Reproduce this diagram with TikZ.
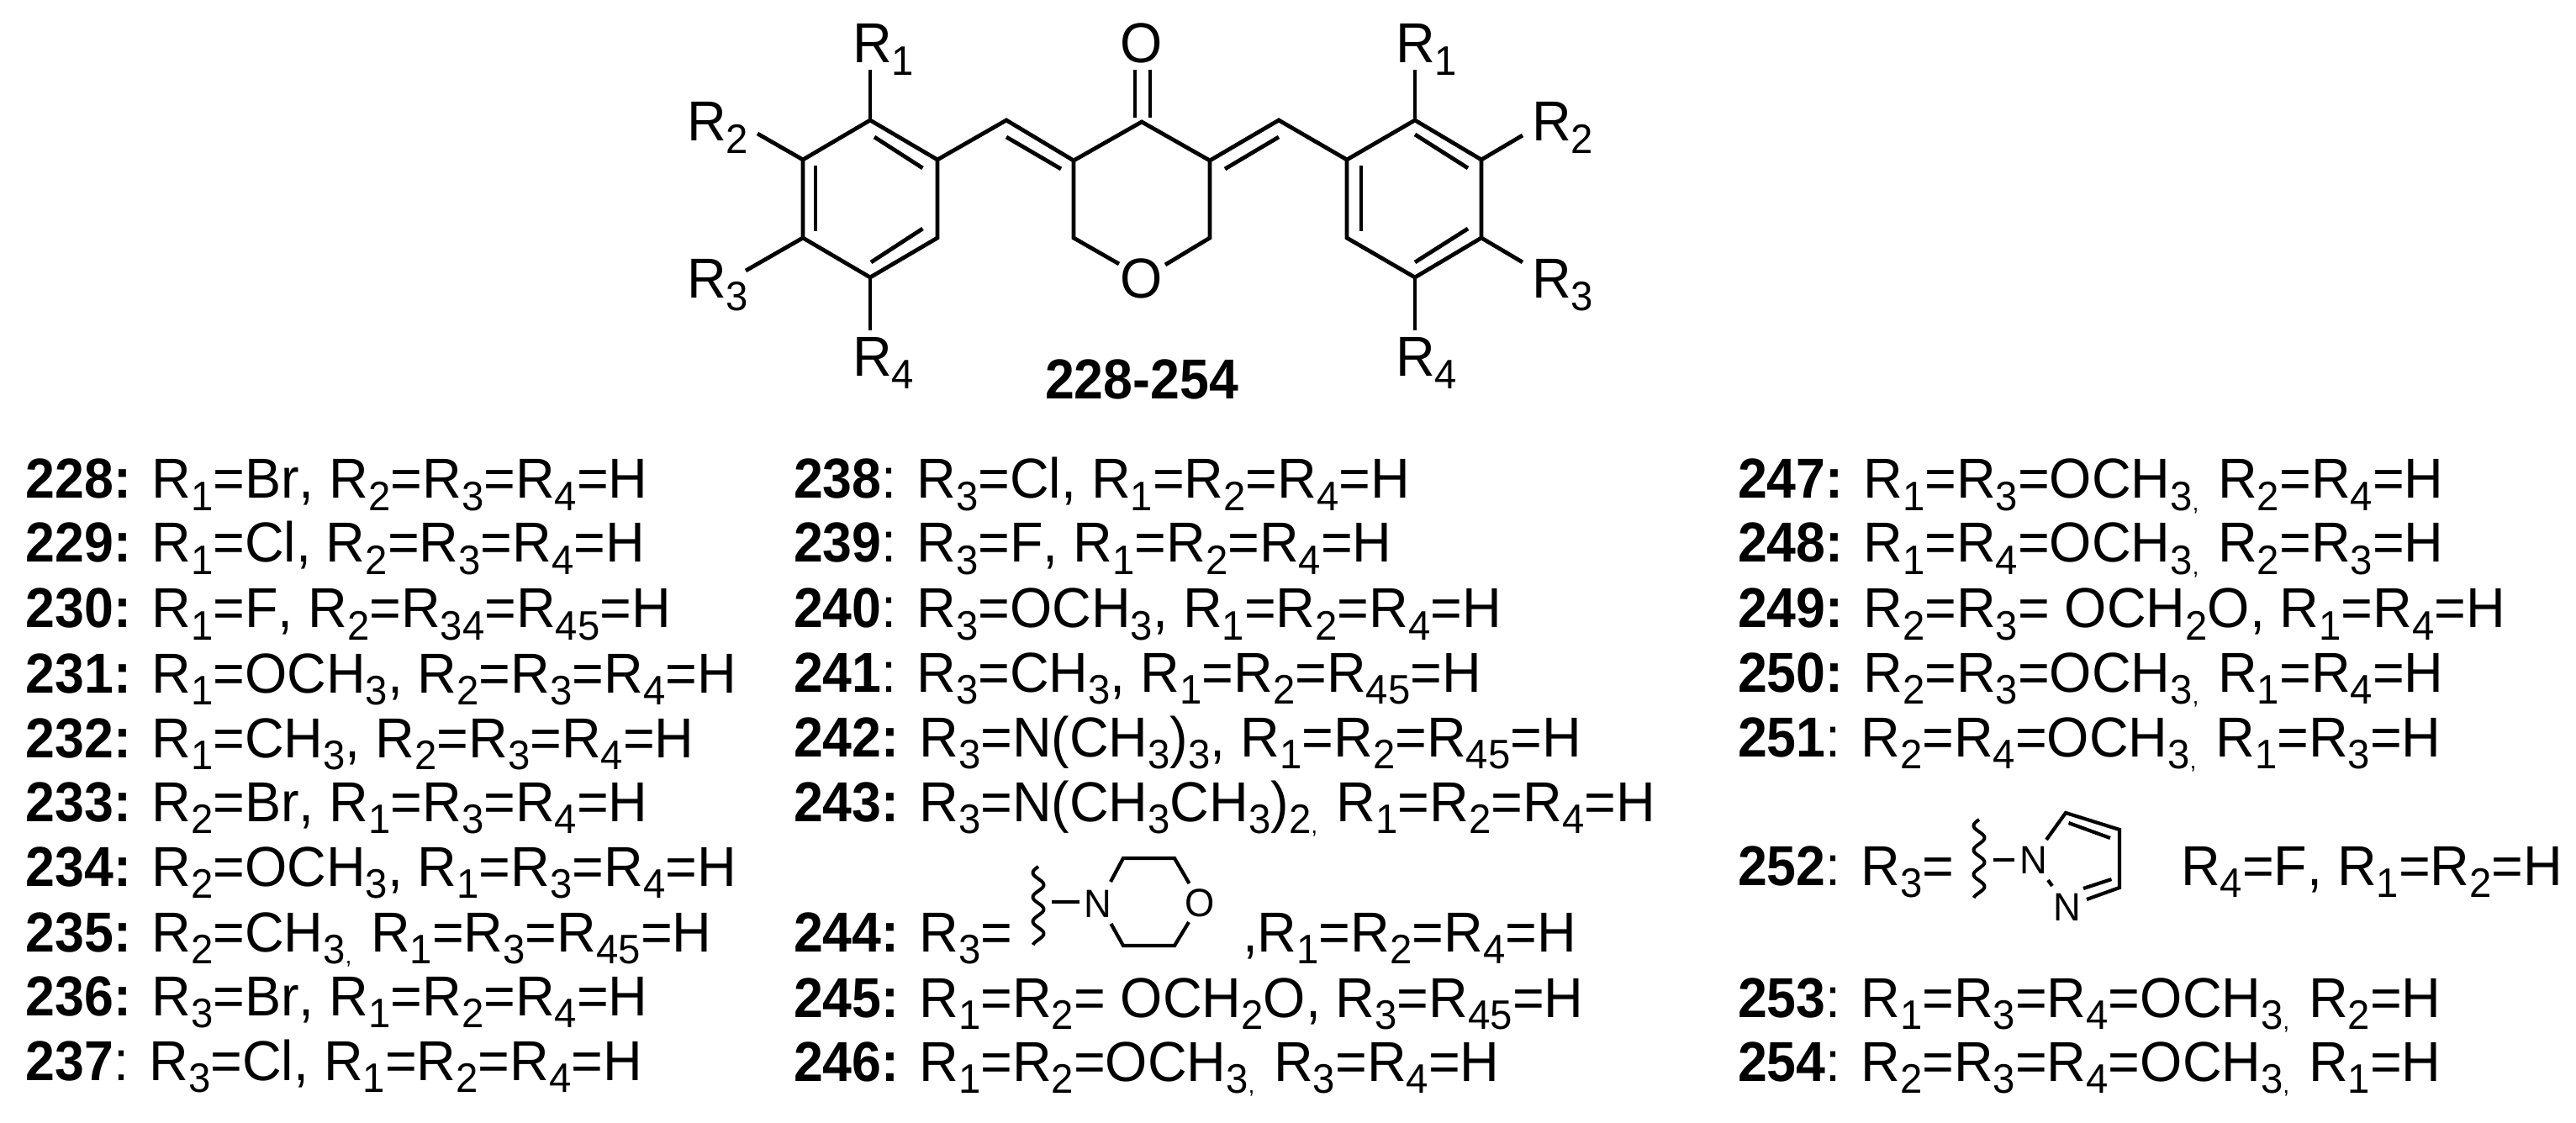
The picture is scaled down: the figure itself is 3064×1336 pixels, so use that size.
\documentclass[tikz,border=0pt]{standalone}
\usepackage{fontspec}
\setmainfont{Liberation Sans}[FakeStretch=0.965,Kerning=Off,BoldFeatures={FakeStretch=0.935}]
\newcommand{\Sb}[1]{\raisebox{-7.3pt}{\fontsize{24.5}{24.5}\selectfont #1}}
\newcommand{\Rr}[1]{R\Sb{#1}}
\newcommand{\Cm}{\raisebox{-7.3pt}{\fontsize{14}{14}\selectfont ,}\hspace{2.5pt}}
\newcommand{\Bd}[1]{\textbf{#1}}
\tikzset{
  bond/.style={line width=2.4pt,line cap=butt,line join=miter},
  wavebond/.style={line width=2pt,line join=round},
  smallbond/.style={line width=2.1pt,line cap=butt,line join=miter},
  lab/.style={inner sep=0pt,outer sep=0pt,anchor=base west,font=\fontsize{33.5}{33.5}\selectfont},
  atomlab/.style={inner sep=0pt,outer sep=0pt,anchor=base,font=\fontsize{33.5}{33.5}\selectfont},
  smatom/.style={inner sep=0pt,outer sep=0pt,anchor=center,font=\fontsize{23.5}{23.5}\selectfont},
}
\newcommand{\Wavy}[3]{\draw[wavebond] plot[domain=0:#3,samples=70,smooth] ({#1-6.5*sin(\x/29*360)},{#2+\x});}
\begin{document}
\begin{tikzpicture}[x=0.5pt,y=-0.5pt]
\useasboundingbox (0,0) rectangle (3064,1336);
% --- main skeleton atoms
\foreach \n/\px/\py in {
 a1/1035/143,a2/1115/190,a3/1115/283,a4/1035/330,a5/955/283,a6/955/190,
 b1/1197/143,c3/1277/191,c4/1358/145,c5/1439/191,b2/1521/143,c2/1277/283,c6/1439/283,
 o1/1331/314,o2/1386/315,
 d1/1683/143,d2/1762/190,d3/1762/283,d4/1683/330,d5/1602/283,d6/1602/190,
 ra1/1035/83,ra2/901/159,ra3/887/322,ra4/1035/393,
 rd1/1683/83,rd2/1811/161,rd3/1811/312,rd4/1683/393,
 i1s/1040/163,i1e/1097.5/200,i2s/1036/312,i2e/1097.5/272,i3s/970/197,i3e/970/275,
 i4s/1197/163,i4e/1262/201,
 i5s/1521/163,i5e/1457/201,
 i6s/1619/197,i6e/1619/275,i7s/1683/160,i7e/1746/200,i8s/1683/312,i8e/1746/272,
 k1s/1350/83,k1e/1350/140,k2s/1368/83,k2e/1368/140}
 {\coordinate (\n) at (\px,\py);}
\draw[bond] (a1)--(a2)--(a3)--(a4)--(a5)--(a6)--cycle;
\draw[bond] (d1)--(d2)--(d3)--(d4)--(d5)--(d6)--cycle;
\draw[bond] (a2)--(b1)--(c3)--(c4)--(c5)--(b2)--(d6);
\draw[bond] (c3)--(c2)--(o1);
\draw[bond] (c5)--(c6)--(o2);
\draw[bond] (a1)--(ra1); \draw[bond] (a6)--(ra2); \draw[bond] (a5)--(ra3); \draw[bond] (a4)--(ra4);
\draw[bond] (d1)--(rd1); \draw[bond] (d2)--(rd2); \draw[bond] (d3)--(rd3); \draw[bond] (d4)--(rd4);
\foreach \k in {i1,i2,i3,i4,i5,i6,i7,i8,k1,k2} {\draw[bond] (\k s)--(\k e);}
% --- labels on the skeleton
\node[lab] (lr1) at (1014,75) {\Rr1};
\node[lab] (lr2) at (817,168) {\Rr2};
\node[lab] (lr3) at (817,355) {\Rr3};
\node[lab] (lr4) at (1014,448) {\Rr4};
\node[lab] (mr1) at (1660,75) {\Rr1};
\node[lab] (mr2) at (1822,168) {\Rr2};
\node[lab] (mr3) at (1822,355) {\Rr3};
\node[lab] (mr4) at (1660,448) {\Rr4};
\node[atomlab] (otop) at (1358,75) {O};
\node[atomlab] (oring) at (1358,355) {O};
\node[atomlab] (title) at (1358,475) {\textbf{228-254}};
% --- column 1
\node[lab] (t228) at (31,593) {\Bd{228:} \Rr1=Br, \Rr2=\Rr3=\Rr4=H};
\node[lab] (t229) at (31,669) {\Bd{229:} \Rr1=Cl, \Rr2=\Rr3=\Rr4=H};
\node[lab] (t230) at (31,747) {\Bd{230:} \Rr1=F, \Rr2=\Rr{34}=\Rr{45}=H};
\node[lab] (t231) at (31,824) {\Bd{231:} \Rr1=OCH\Sb3, \Rr2=\Rr3=\Rr4=H};
\node[lab] (t232) at (31,901) {\Bd{232:} \Rr1=CH\Sb3, \Rr2=\Rr3=\Rr4=H};
\node[lab] (t233) at (31,977) {\Bd{233:} \Rr2=Br, \Rr1=\Rr3=\Rr4=H};
\node[lab] (t234) at (31,1054) {\Bd{234:} \Rr2=OCH\Sb3, \Rr1=\Rr3=\Rr4=H};
\node[lab] (t235) at (31,1132) {\Bd{235:} \Rr2=CH\Sb3\Cm\ \Rr1=\Rr3=\Rr{45}=H};
\node[lab] (t236) at (31,1208) {\Bd{236:} \Rr3=Br, \Rr1=\Rr2=\Rr4=H};
\node[lab] (t237) at (31,1285) {\Bd{237}: \Rr3=Cl, \Rr1=\Rr2=\Rr4=H};
% --- column 2
\node[lab] (t238) at (944,593) {\Bd{238}: \Rr3=Cl, \Rr1=\Rr2=\Rr4=H};
\node[lab] (t239) at (944,669) {\Bd{239}: \Rr3=F, \Rr1=\Rr2=\Rr4=H};
\node[lab] (t240) at (944,747) {\Bd{240}: \Rr3=OCH\Sb3, \Rr1=\Rr2=\Rr4=H};
\node[lab] (t241) at (944,823) {\Bd{241}: \Rr3=CH\Sb3, \Rr1=\Rr2=\Rr{45}=H};
\node[lab] (t242) at (944,900) {\Bd{242:} \Rr3=N(CH\Sb3)\Sb3, \Rr1=\Rr2=\Rr{45}=H};
\node[lab] (t243) at (944,977) {\Bd{243:} \Rr3=N(CH\Sb3CH\Sb3)\Sb2\Cm\ \Rr1=\Rr2=\Rr4=H};
\node[lab] (t244) at (944,1132) {\Bd{244:} \Rr3=};
\node[lab] (t244b) at (1478,1132) {,\Rr1=\Rr2=\Rr4=H};
\node[lab] (t245) at (944,1210) {\Bd{245:} \Rr1=\Rr2= OCH\Sb2O, \Rr3=\Rr{45}=H};
\node[lab] (t246) at (944,1286) {\Bd{246:} \Rr1=\Rr2=OCH\Sb3\Cm\ \Rr3=\Rr4=H};
% --- column 3
\node[lab] (t247) at (2067,593) {\Bd{247:} \Rr1=\Rr3=OCH\Sb3\Cm\ \Rr2=\Rr4=H};
\node[lab] (t248) at (2067,669) {\Bd{248:} \Rr1=\Rr4=OCH\Sb3\Cm\ \Rr2=\Rr3=H};
\node[lab] (t249) at (2067,747) {\Bd{249:} \Rr2=\Rr3= OCH\Sb2O, \Rr1=\Rr4=H};
\node[lab] (t250) at (2067,823) {\Bd{250:} \Rr2=\Rr3=OCH\Sb3\Cm\ \Rr1=\Rr4=H};
\node[lab] (t251) at (2067,900) {\Bd{251}: \Rr2=\Rr4=OCH\Sb3\Cm\ \Rr1=\Rr3=H};
\node[lab] (t252) at (2067,1053) {\Bd{252}: \Rr3=};
\node[lab] (t252b) at (2594,1053) {\Rr4=F, \Rr1=\Rr2=H};
\node[lab] (t253) at (2067,1210) {\Bd{253}: \Rr1=\Rr3=\Rr4=OCH\Sb3\Cm\ \Rr2=H};
\node[lab] (t254) at (2067,1286) {\Bd{254}: \Rr2=\Rr3=\Rr4=OCH\Sb3\Cm\ \Rr1=H};
% --- morpholine
\node[smatom] (mN) at (1306,1075) {N};
\node[smatom] (mO) at (1427,1074) {O};
\foreach \n/\px/\py in {m1/1321/1049,m2/1336/1021,m3/1397/1021,m4/1414.5/1051,
  m5/1321.5/1099,m6/1336/1125,m7/1397/1125,m8/1414/1097,mb/1251/1073,mc/1284/1073}
 {\coordinate (\n) at (\px,\py);}
\draw[smallbond] (m1)--(m2)--(m3)--(m4);
\draw[smallbond] (m5)--(m6)--(m7)--(m8);
\draw[smallbond] (mb)--(mc);
\Wavy{1235}{1031}{93}
% --- pyrazole
\node[smatom] (pN1) at (2419,1023) {N};
\node[smatom] (pN2) at (2459,1079) {N};
\foreach \n/\px/\py in {p1/2434/999,p2/2457/967,p3/2521/987,p4/2521/1056,p5/2482/1070,
  p6/2436/1047,p7/2441/1054,p8/2460.5/979,p9/2510/997,p10/2478/1057,p11/2511.5/1046,
  pb/2370.6/1023,pc/2396/1023}
 {\coordinate (\n) at (\px,\py);}
\draw[smallbond] (p1)--(p2)--(p3)--(p4)--(p5);
\draw[smallbond] (p6)--(p7);
\draw[smallbond] (p8)--(p9);
\draw[smallbond] (p10)--(p11);
\draw[smallbond] (pb)--(pc);
\Wavy{2354}{975}{93}
\end{tikzpicture}
\end{document}
